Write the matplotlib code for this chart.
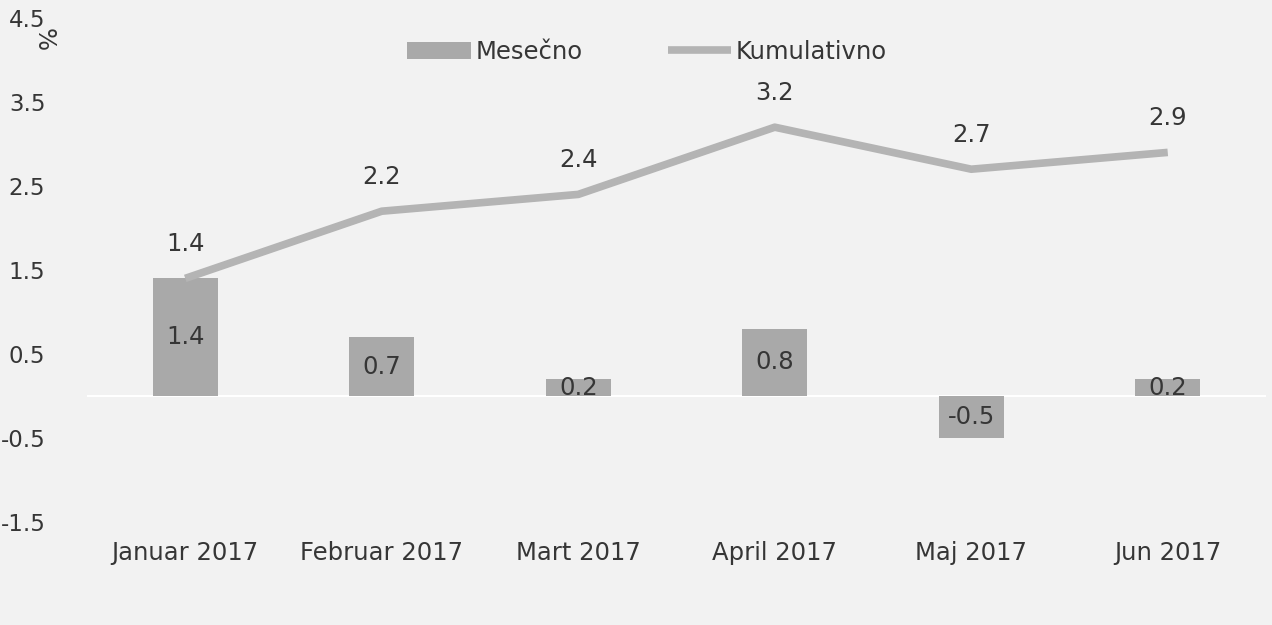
import matplotlib

matplotlib.use("Agg")
import matplotlib.pyplot as plt
import numpy as np

months = ["Januar 2017", "Februar 2017", "Mart 2017", "April 2017", "Maj 2017", "Jun 2017"]
mesecno = [1.4, 0.7, 0.2, 0.8, -0.5, 0.2]
kumulativno = [1.4, 2.2, 2.4, 3.2, 2.7, 2.9]
yticks = [-1.5, -0.5, 0.5, 1.5, 2.5, 3.5, 4.5]

BG = "#f2f2f2"
TXT = "#363636"
FS = 17.5

plt.rcParams["font.family"] = ["DejaVu Sans"]

fig = plt.figure(figsize=(12.72, 6.25), dpi=100, facecolor=BG)
ax = fig.add_axes([87 / 1272, 1 - 522 / 625, (1266 - 87) / 1272, (522 - 18) / 625])
ax.set_facecolor(BG)

x = np.arange(len(months))
bar_h = ax.bar(x, mesecno, width=0.33, color="#a9a9a9", zorder=2, label="Mesečno")
(line_h,) = ax.plot(x, kumulativno, color="#b4b4b4", lw=5.5, zorder=3, label="Kumulativno",
                    solid_capstyle="butt")
ax.axhline(0, color="white", lw=1.5, zorder=1)

# data labels: bar values centred in the bar, line values above the point
for xi, v in zip(x, mesecno):
    ax.text(xi, v / 2, f"{v:.1f}", ha="center", va="center", fontsize=FS, color=TXT, zorder=4)
for xi, v in zip(x, kumulativno):
    ax.text(xi, v + 0.27, f"{v:.1f}", ha="center", va="bottom", fontsize=FS, color=TXT, zorder=4)

ax.set_xlim(-0.5, len(months) - 0.5)
ax.set_ylim(-1.5, 4.5)
ax.set_xticks(x)
ax.set_xticklabels(months, fontsize=FS, color=TXT)
ax.set_yticks(yticks)
ax.set_yticklabels([f"{t:.1f}" for t in yticks], fontsize=16.5, color=TXT)
ax.tick_params(axis="both", length=0)
ax.tick_params(axis="x", pad=14)
ax.tick_params(axis="y", pad=30)
for s in ax.spines.values():
    s.set_visible(False)

fig.text(44 / 1272, 1 - 40 / 625, "%", rotation=-90, ha="center", va="center",
         fontsize=FS, color=TXT)

leg = ax.legend([bar_h, line_h], ["Mesečno", "Kumulativno"], loc="upper center",
                bbox_to_anchor=(0.475, 1.0), ncol=2, frameon=False, fontsize=FS,
                handlelength=2.6, handletextpad=0.2, columnspacing=3.5)
for t in leg.get_texts():
    t.set_color(TXT)

fig.savefig("out.png", dpi=100, facecolor=BG)
